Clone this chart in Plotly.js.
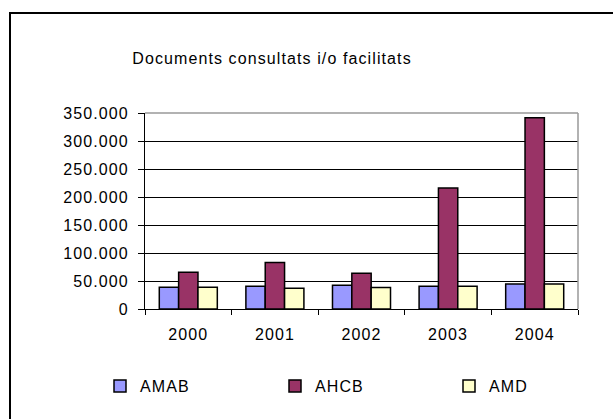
<!DOCTYPE html>
<html><head><meta charset="utf-8">
<script src="https://cdn.plot.ly/plotly-3.0.1.min.js"></script>
<style>
html,body{margin:0;padding:0;background:#fff;}
#wrap{position:relative;width:613px;height:419px;overflow:hidden;}
#chart{position:absolute;left:0;top:0;width:613px;height:419px;}
#frame{position:absolute;left:9px;top:12px;width:700px;height:500px;border-left:2px solid #000;border-top:2px solid #000;pointer-events:none;}
text{letter-spacing:1.1px;}
</style></head>
<body><div id="wrap"><div id="chart"></div><div id="frame"></div></div>
<script>
const years = ['2000','2001','2002','2003','2004'];
const amab = [39000, 40500, 42500, 40500, 44500];
const ahcb = [65500, 83000, 64000, 216000, 341500];
const amd  = [39000, 37000, 38500, 40500, 44500];
const seriesNames = ['AMAB','AHCB','AMD'];
const colors = ['#9999FF','#993366','#FFFFCC'];
const yTicks = [0,50000,100000,150000,200000,250000,300000,350000];

const legendIds = ['legend','legend2','legend3'];
const vals = [amab, ahcb, amd];
const data = vals.map((v,i)=>({
  type:'bar', x:years, y:v, name:seriesNames[i], legend:legendIds[i],
  marker:{color:colors[i], line:{color:'#000', width:1.5}}
}));
const font = {family:'Liberation Sans, Arial, sans-serif', size:16, color:'#000'};
const L=145, R=578, T=113, B=309, W=R-L, H=B-T;
function legAt(px){
  return {x:(px-L)/W, xanchor:'left', y:-(386-B)/H, yanchor:'middle', font:font, bgcolor:'rgba(0,0,0,0)', borderwidth:0, orientation:'h'};
}
const layout = {
  width:613, height:419,
  margin:{l:L, r:613-R, t:T, b:419-B},
  paper_bgcolor:'#fff', plot_bgcolor:'#fff',
  separators:',.',
  font:font,
  title:{text:'Documents consultats i/o facilitats', font:font, x:272/613, xanchor:'center', xref:'container', y:1-58/419, yanchor:'middle'},
  barmode:'group', bargap:0.33, bargroupgap:0,
  xaxis:{type:'category', showline:true, linecolor:'#000', linewidth:1, ticks:'outside', tickson:'boundaries', ticklen:5, tickcolor:'#000', showgrid:false, tickfont:font, ticklabelstandoff:11, fixedrange:true},
  yaxis:{range:[0,350000], tickvals:yTicks, tickformat:',d', showline:true, linecolor:'#000', linewidth:1, ticks:'outside', ticklen:6, tickcolor:'#000', showgrid:true, gridcolor:'#000', gridwidth:1, zeroline:false, tickfont:font, ticklabelstandoff:6, fixedrange:true},
  showlegend:true,
  legend:legAt(100),
  legend2:legAt(275),
  legend3:legAt(449),
  shapes:[
    {type:'line', xref:'paper', yref:'paper', x0:0, x1:1, y0:1, y1:1, line:{color:'#999', width:1.5}, layer:'above'},
    {type:'line', xref:'paper', yref:'paper', x0:1, x1:1, y0:0, y1:1, line:{color:'#999', width:1.5}, layer:'above'}
  ]
};
Plotly.newPlot('chart', data, layout, {displayModeBar:false, staticPlot:true});
</script></body></html>
